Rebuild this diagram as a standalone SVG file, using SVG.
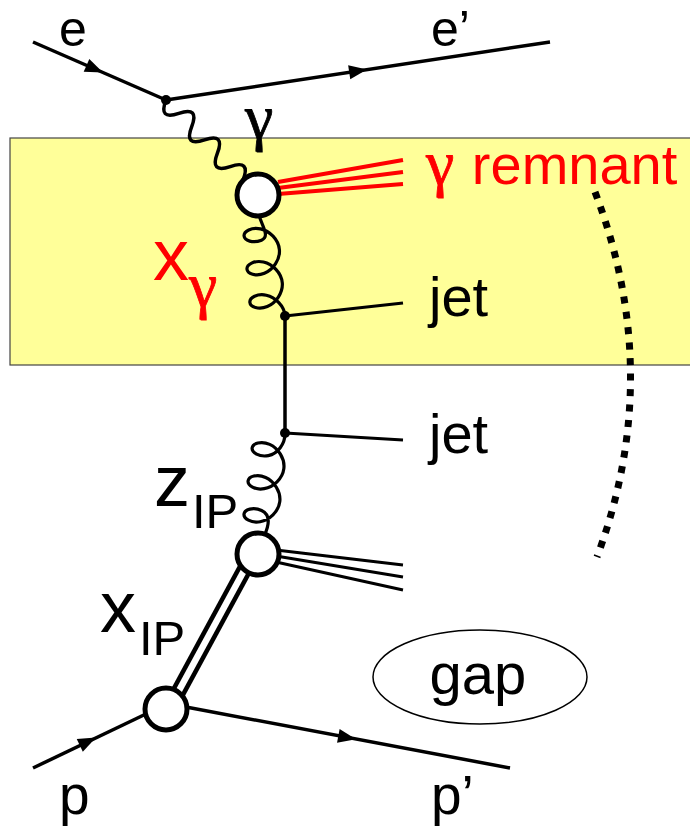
<svg xmlns="http://www.w3.org/2000/svg" xmlns:xlink="http://www.w3.org/1999/xlink" width="690" height="826" viewBox="0 0 690 826">
<style>
.ln{fill:none;stroke:#000;stroke-width:3.5;stroke-linecap:butt}
.gl{fill:none;stroke:#000;stroke-width:3.2}
.red{fill:none;stroke:#ff0000;stroke-width:4}
.thin{fill:none;stroke:#000;stroke-width:3}
.blob{fill:#fff;stroke:#000;stroke-width:5}
.t{font-family:"Liberation Sans",Arial,sans-serif;fill:#000}
.g{font-family:"Liberation Serif","Times New Roman",serif}
.r{fill:#ff0000}
</style>
<defs>
<path id="arr" d="M0,0 L-18,-7 L-18,7 Z" fill="#000"/>
</defs>
<rect id="region" x="10" y="138" width="682" height="227" fill="#ffff99" stroke="#444" stroke-width="1.2"/>
<g id="connectors">
<path class="ln" d="M33,42 L166,100"/>
<path class="ln" d="M166,100 L550,42"/>
<path class="ln" d="M33,768 L148,713"/>
<path class="ln" d="M186,707 L510,768"/>
<use xlink:href="#arr" transform="translate(103,72.5) rotate(23.6)"/>
<use xlink:href="#arr" transform="translate(367,69.6) rotate(-8.6)"/>
<use xlink:href="#arr" transform="translate(96,737.6) rotate(-25.7)"/>
<use xlink:href="#arr" transform="translate(356,739.3) rotate(10.6)"/>
<path class="ln" transform="translate(166,100) rotate(46)" d="M0,0 q9.25,20 18.5,0 t18.5,0 t18.5,0 t18.5,0 t18.5,0 t18.5,0"/>
<path class="gl" transform="translate(261,234.5) rotate(-5)" d="M0,-18 C2,-8 8.9,2.9 0,5.675 c-8.9,2.775 -17,-1.121 -17,-5.676 c0,-4.555 8.1,-8.45 17,-5.675 c8.9,2.775 17,12.22 17,22.325 c0,10.105 -8.1,19.55 -17,22.326 c-8.9,2.775 -17,-1.121 -17,-5.676 c0,-4.555 8.1,-8.45 17,-5.675 c8.9,2.775 17,12.22 17,22.325 c0,10.105 -8.1,19.55 -17,22.326 c-8.9,2.775 -17,-1.121 -17,-5.676 c0,-4.555 8.1,-8.45 17,-5.675 c8.9,2.775 17,12.22 17,22.325"/>
<path class="ln" d="M285,316 L285,433"/>
<path class="thin" d="M285,316 L403,303"/>
<path class="thin" d="M285,433 L403,440"/>
<path class="gl" transform="translate(269,450) rotate(7)" d="M13.8,-18.8 C15.5,-8 8.9,2.9 0,5.675 c-8.9,2.775 -17,-1.121 -17,-5.676 c0,-4.555 8.1,-8.45 17,-5.675 c8.9,2.775 17,12.22 17,22.325 c0,10.105 -8.1,19.55 -17,22.326 c-8.9,2.775 -17,-1.121 -17,-5.676 c0,-4.555 8.1,-8.45 17,-5.675 c8.9,2.775 17,12.22 17,22.325 c0,10.105 -8.1,19.55 -17,22.326 c-8.9,2.775 -17,-1.121 -17,-5.676 c0,-4.555 8.1,-8.45 17,-5.675 c8,2.6 10,11 6,24"/>
<path class="red" d="M278,182 L403,160 M278,188 L403,172 M278,194 L403,184"/>
<path class="thin" d="M276,550 L403,565 M276,556 L403,577 M276,562 L403,590"/>
<path d="M169,709 L253,554" fill="none" stroke="#000" stroke-width="15.5"/>
<path d="M169,709 L253,554" fill="none" stroke="#fff" stroke-width="6.5"/>
<path d="M595,192 Q665,375 597,557" fill="none" stroke="#000" stroke-width="7" stroke-dasharray="7 8.5"/>
</g>
<g id="vertex-e"><circle cx="166" cy="100" r="5"/></g>
<g id="vertex-jet1"><circle cx="285" cy="316" r="5"/></g>
<g id="vertex-jet2"><circle cx="285" cy="433" r="5"/></g>
<g id="blob-gamma"><circle class="blob" cx="258" cy="195" r="21"/></g>
<g id="blob-pomeron"><circle class="blob" cx="258" cy="554" r="21"/></g>
<g id="blob-proton"><circle class="blob" cx="166" cy="709" r="21"/></g>
<g id="gap"><ellipse cx="480" cy="677" rx="107" ry="47" fill="none" stroke="#000" stroke-width="1.5"/>
<text class="t" x="478" y="694" font-size="58" text-anchor="middle">gap</text></g>
<g id="labels">
<text class="t" x="59" y="45.5" font-size="50">e</text>
<text class="t" x="431" y="45.5" font-size="50">e’</text>
<text class="t g" x="245" y="138" font-size="64" stroke="#000" stroke-width="0.8">γ</text>
<text class="t r" x="426" y="184"><tspan class="g" font-size="64" stroke="#ff0000" stroke-width="0.8">γ</tspan><tspan font-size="56" dx="2"> remnant</tspan></text>
<text class="t r" x="153" y="280" font-size="72">x</text>
<text class="t r g" x="189" y="306" font-size="64" stroke="#ff0000" stroke-width="0.8">γ</text>
<text class="t" x="429" y="316" font-size="56">jet</text>
<text class="t" x="429" y="453" font-size="56">jet</text>
<text class="t" x="154" y="506" font-size="72">z</text>
<text class="t" x="192" y="528" font-size="49">IP</text>
<text class="t" x="100" y="632" font-size="72">x</text>
<text class="t" x="139" y="655" font-size="49">IP</text>
<text class="t" x="59" y="814" font-size="55">p</text>
<text class="t" x="431" y="814" font-size="55">p’</text>
</g>
</svg>
